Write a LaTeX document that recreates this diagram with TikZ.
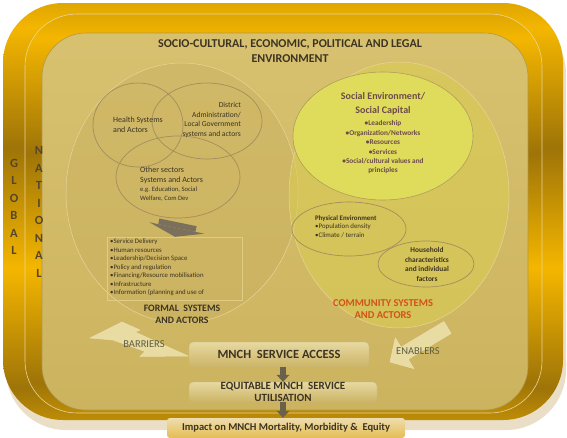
\documentclass[tikz,border=0pt]{standalone}
\usepackage{fontspec}
\setmainfont{Carlito}
\usetikzlibrary{shapes.geometric,arrows.meta,positioning}

\definecolor{goldA}{HTML}{EEDCA8}
\definecolor{goldB}{HTML}{E8B840}
\definecolor{goldC}{HTML}{F4B600}
\definecolor{goldD}{HTML}{9E7408}
\definecolor{goldE}{HTML}{E2A616}
\definecolor{goldL}{HTML}{EAD49A}
\definecolor{shadowc}{HTML}{EADFC6}
\definecolor{panelT}{HTML}{DDC878}
\definecolor{panelB}{HTML}{C6AC56}
\definecolor{panelD}{HTML}{B09848}
\definecolor{formalc}{HTML}{C8B060}
\definecolor{commc}{HTML}{D8CC52}
\definecolor{socc}{HTML}{DFDC5C}
\definecolor{ringc}{HTML}{A28F5C}
\definecolor{inkc}{HTML}{3C3322}
\definecolor{socink}{HTML}{6C4A4A}
\definecolor{commink}{HTML}{D2521C}
\definecolor{bandink}{HTML}{54462A}
\definecolor{lblink}{HTML}{5E5C44}
\definecolor{flowc}{HTML}{6B604A}
\definecolor{arrowfill}{HTML}{E8DCA2}

\pgfdeclareverticalshading{goldband}{100bp}{color(0bp)=(goldA); color(7bp)=(goldB);
  color(18.5bp)=(goldC); color(28.8bp)=(goldD); color(43.2bp)=(goldC); color(57.6bp)=(goldD);
  color(72bp)=(goldC); color(84.7bp)=(goldD); color(93.5bp)=(goldE); color(100bp)=(goldE)}
\pgfdeclareverticalshading{panelshade}{100bp}{color(0bp)=(panelB); color(100bp)=(panelT)}

\tikzset{
  bigring/.style={ellipse, inner sep=0pt, fill opacity=0.45, draw=goldL, line width=0.5pt},
  vennring/.style={ellipse, inner sep=0pt, draw=ringc, line width=0.7pt},
  smallring/.style={ellipse, inner sep=0pt, draw=ringc, line width=0.7pt},
  titletxt/.style={align=center, text=inkc, font=\fontsize{12}{14.5}\selectfont\bfseries},
  bandtxt/.style={align=center, text=bandink, font=\fontsize{12.5}{17.5}\selectfont\bfseries},
  venntxt/.style={text=inkc, inner sep=0pt, font=\fontsize{8}{9.8}\selectfont},
  flowbox/.style={rounded corners=4pt, inner sep=0pt, top color=#1, bottom color=panelB!90!white, draw=panelD!70!white, line width=0.4pt, text=inkc},
  flowarr/.style={draw=flowc, line width=6pt, -{Triangle[width=13pt,length=7pt,line width=0pt]}},
}

\begin{document}
\begin{tikzpicture}[x=1pt,y=-1pt]
\useasboundingbox (0,0) rectangle (567,437);
% frames
\fill[shadowc, rounded corners=60pt] (6,14) rectangle (566,430);
\shade[shading=goldband, rounded corners=60pt] (3,3) rectangle (563,420);
\shadedraw[shading=goldband, rounded corners=52pt, draw=goldL, line width=0.6pt] (25,14) rectangle (542,413);
\shadedraw[shading=panelshade, rounded corners=44pt, draw=panelD, line width=0.6pt] (42,33) rectangle (528,410);

% global / national
\node[bandtxt] (glob) at (14,207) {G\\L\\O\\B\\A\\L};
\node[bandtxt] (natl) at (39,212) {N\\A\\T\\I\\O\\N\\A\\L};

\node[titletxt] (title) at (290,51) {SOCIO-CULTURAL, ECONOMIC, POLITICAL AND LEGAL\\ENVIRONMENT};

% formal systems
\node[bigring, fill=formalc, minimum width=232pt, minimum height=260pt] (formal) at (182,193) {};
% community systems
\node[bigring, fill=commc, fill opacity=0.6, minimum width=220pt, minimum height=266pt] (community) at (399,195) {};
\node[ellipse, inner sep=0pt, fill=socc, draw=ringc!80!socc, line width=0.6pt, minimum width=180pt, minimum height=128pt] (social) at (383,136) {};
\node[smallring, minimum width=114pt, minimum height=54pt] (physical) at (349,229) {};
\node[smallring, minimum width=96pt, minimum height=46pt] (household) at (426,264) {};

% venn
\node[vennring, minimum width=90pt, minimum height=84pt] (health) at (138,125) {};
\node[vennring, minimum width=110pt, minimum height=76pt] (district) at (207,121) {};
\node[vennring, minimum width=124pt, minimum height=82pt] (other) at (178,177) {};

\node[venntxt, align=left, anchor=west] (healthtxt) at (113,125) {Health Systems\\and Actors};
\node[venntxt, align=right, anchor=east, font=\fontsize{7.6}{9.7}\selectfont] (districttxt) at (241,120) {District\\Administration/\\Local Government\\systems and actors};
\node[venntxt, align=left, anchor=west] (othertxt) at (140,175) {Other sectors\\Systems and Actors};
\node[venntxt, align=left, anchor=west, font=\fontsize{6.6}{9}\selectfont] (egtxt) at (140,194.5) {e.g. Education, Social\\Welfare, Com Dev};

\node[draw=panelT!92!white, line width=0.4pt, inner sep=0pt, minimum width=135pt, minimum height=63pt] (flist) at (175,268.5) {};
\node[anchor=west, align=left, inner sep=0pt, text=inkc, font=\fontsize{6.8}{8.5}\selectfont] (flisttxt) at (110,267.5)
  {\textbullet Service Delivery\\\textbullet Human resources\\\textbullet Leadership/Decision Space\\\textbullet Policy and regulation\\
   \textbullet Financing/Resource mobilisation\\\textbullet Infrastructure\\\textbullet Information (planning and use of};
\draw[draw=flowc!90!white, line width=38pt, -{Triangle[width=56pt,length=9pt,line width=0pt]}] ([yshift=-4pt]other.south) -- (flist.north);

\node[align=center, text=inkc, font=\fontsize{9.8}{11.5}\selectfont\bfseries] (formallbl) at (182,314.5) {FORMAL~ SYSTEMS\\AND ACTORS};

% community texts
\node[align=center, text=socink, font=\fontsize{10}{14}\selectfont\bfseries] (soctitle) at (383,104) {Social Environment/\\Social Capital};
\node[align=center, text=socink, font=\fontsize{7.3}{9.4}\selectfont\bfseries] (socitems) at (383,147.5)
  {\textbullet Leadership\\\textbullet Organization/Networks\\\textbullet Resources\\\textbullet Services\\\textbullet Social/cultural values and\\principles};
\node[anchor=west, align=left, inner sep=0pt, text=inkc, font=\fontsize{6.9}{8.5}\selectfont] (phystxt) at (315,226.5)
  {\textbf{Physical Environment}\\\textbullet Population density\\\textbullet Climate / terrain};
\node[align=center, inner sep=0pt, text=inkc, font=\fontsize{7.4}{9.6}\selectfont\bfseries] (housetxt) at (427,264.5)
  {Household\\characteristics\\and individual\\factors};
\node[align=center, text=commink, font=\fontsize{10.5}{12}\selectfont\bfseries] (commlbl) at (383,309) {COMMUNITY SYSTEMS\\AND ACTORS};

% barriers / enablers
\filldraw[fill=arrowfill, draw=panelT!60!white, line width=0.5pt, line join=round]
  (90,338) -- (122,322) -- (140,330) -- (135,332) -- (188,356) -- (140,356.5) -- (145,351.5) -- (113,340) -- cycle;
\filldraw[fill=arrowfill, draw=panelT!60!white, line width=0.5pt, line join=round]
  (443.9,321.5) -- (451.1,333.5) -- (408.2,359.2) -- (413.9,368.6) -- (390,362) -- (395.3,337.8) -- (401,347.2) -- cycle;
\node[text=lblink, font=\fontsize{10.5}{12}\selectfont] (barriers) at (144,344) {BARRIERS};
\node[text=lblink, font=\fontsize{10.5}{12}\selectfont] (enablers) at (418,351) {ENABLERS};

% flow
\node[flowbox=panelT!70!white, minimum width=180pt, minimum height=25pt, font=\fontsize{12.5}{14}\selectfont\bfseries] (access) at (279,354.5) {MNCH~ SERVICE ACCESS};
\node[flowbox=panelT!70!white, minimum width=188pt, minimum height=20pt, align=center, font=\fontsize{11}{12}\selectfont\bfseries] (equit) at (283,392) {EQUITABLE MNCH~ SERVICE\\UTILISATION};
\node[rounded corners=3pt, inner sep=0pt, top color=goldL!80!white, bottom color=goldB!70!panelT, text=inkc, minimum width=238pt, minimum height=20pt, font=\fontsize{10.5}{12}\selectfont\bfseries] (impact) at (286,428) {Impact on MNCH Mortality, Morbidity \&~ Equity};
\draw[flowarr] (access.south -| equit.north) -- (equit.north);
\draw[flowarr] (equit.south) -- (equit.south |- impact.north);
\end{tikzpicture}
\end{document}
